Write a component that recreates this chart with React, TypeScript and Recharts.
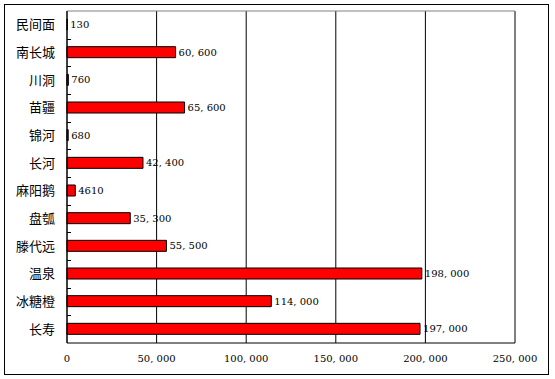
import React from 'react';
import { BarChart, Bar, XAxis, YAxis, CartesianGrid, LabelList, usePlotArea } from 'recharts';

const categories = ['民间面', '南长城', '川洞', '苗疆', '锦河', '长河', '麻阳鹅', '盘瓠', '滕代远', '温泉', '冰糖橙', '长寿'];
const values = [130, 60600, 760, 65600, 680, 42400, 4610, 35300, 55500, 198000, 114000, 197000];
const xTicks = [0, 50000, 100000, 150000, 200000, 250000];

const data = categories.map((name, i) => ({ name, value: values[i] }));

const fmt = (v: number) => {
  if (v >= 10000) {
    const th = Math.floor(v / 1000);
    const rest = String(v % 1000).padStart(3, '0');
    return `${th}, ${rest}`;
  }
  return String(v);
};

const numFont = { fontFamily: 'DejaVu Serif', fontSize: 10, fill: '#000' };

const Frame = () => {
  const pa: any = usePlotArea();
  if (!pa) return null;
  const { x, y, width, height } = pa;
  const n = categories.length;
  const ticks = [];
  for (let i = 1; i < n; i++) {
    const ty = Math.round(y + (height * i) / n) + 0.5;
    ticks.push(<line key={i} x1={x} x2={x + 4} y1={ty} y2={ty} stroke="#000" strokeWidth={1} />);
  }
  return (
    <g>
      <line x1={x} x2={x + width} y1={y} y2={y} stroke="#808080" strokeWidth={1} />
      <line x1={x + width} x2={x + width} y1={y} y2={y + height} stroke="#808080" strokeWidth={1} />
      {ticks}
    </g>
  );
};

export default function App() {
  return (
    <div style={{ position: 'absolute', left: 0, top: 0, width: 555, height: 379, background: '#fff' }}>
      <div
        style={{
          position: 'absolute',
          left: 4,
          top: 4,
          width: 545,
          height: 371,
          border: '1px solid #000',
          boxSizing: 'border-box',
        }}
      />
      <div style={{ position: 'absolute', left: 0, top: 0 }}>
        <BarChart
          width={555}
          height={379}
          data={data}
          layout="vertical"
          margin={{ top: 11, right: 40, bottom: 6, left: 0 }}
          barCategoryGap={0}
        >
          <CartesianGrid horizontal={false} vertical stroke="#000" strokeWidth={1} />
          <XAxis
            type="number"
            domain={[0, 250000]}
            ticks={xTicks}
            tickFormatter={fmt}
            axisLine={{ stroke: '#000' }}
            tickLine={false}
            tickSize={0}
            tickMargin={12}
            height={30}
            tick={numFont}
            interval={0}
          />
          <YAxis
            type="category"
            dataKey="name"
            width={67}
            axisLine={{ stroke: '#000' }}
            tickLine={false}
            tickSize={0}
            tickMargin={12}
            interval={0}
            tick={{ fontFamily: 'Noto Sans CJK SC', fontSize: 13, fill: '#000' }}
          />
          <Bar dataKey="value" fill="#ff0000" stroke="#000" strokeWidth={1} barSize={11} isAnimationActive={false}>
            <LabelList dataKey="value" position="right" offset={3} formatter={fmt} style={numFont} />
          </Bar>
          <Frame />
        </BarChart>
      </div>
    </div>
  );
}
